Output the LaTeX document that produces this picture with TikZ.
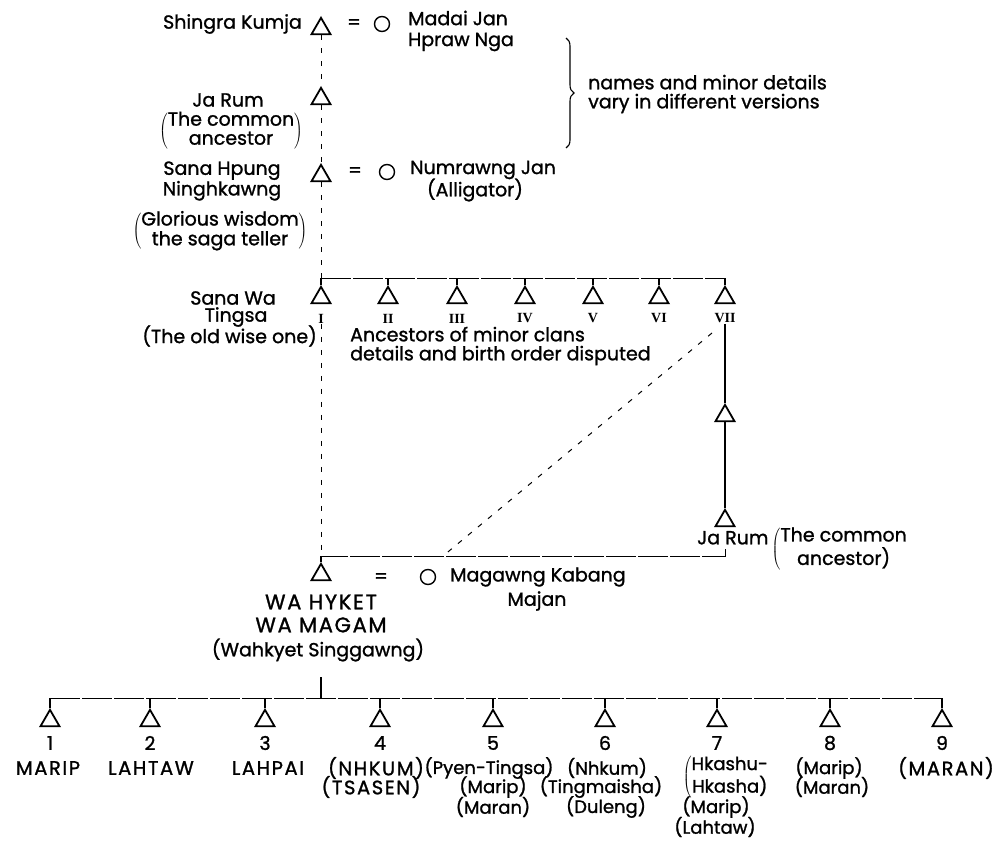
\documentclass[tikz,border=0pt]{standalone}
\usepackage{fontspec}
\setmainfont{Poppins}[FakeBold=1.2]
\newfontfamily\romfont{Liberation Serif}
\newfontfamily\capfont{Poppins}[LetterSpace=8,FakeBold=1.2]
\usetikzlibrary{shapes.geometric,decorations.pathreplacing}
\newcommand\parenblock[1]{$\left(\begin{tabular}{@{}c@{}}#1\end{tabular}\right)$}
\newcommand\lparenblock[1]{$\left(\begin{tabular}{@{}c@{}}#1\end{tabular}\right.$}
\begin{document}
\begin{tikzpicture}[x=1pt,y=-1pt,
  tri/.style={regular polygon, regular polygon sides=3, draw, line width=1.8pt,
    minimum size=22pt, inner sep=0pt, anchor=north},
  fem/.style={circle, draw, line width=1.4pt, minimum size=15pt, inner sep=0pt},
  lbl/.style={font=\fontsize{19}{19}\selectfont, inner sep=0pt},
  blbl/.style={font=\fontsize{18}{19}\selectfont, inner sep=0pt},
  capl/.style={font=\capfont\fontsize{21}{23}\selectfont, inner sep=0pt, align=center},
  bcap/.style={font=\capfont\fontsize{19.5}{20}\selectfont, inner sep=0pt},
  rom/.style={font=\romfont\bfseries\fontsize{14}{14}\selectfont, inner sep=0.5pt},
  dsh/.style={line width=1pt, dash pattern=on 5pt off 8pt},
  sib/.style={line width=1pt, dash pattern=on 30pt off 2pt},
  solidl/.style={line width=1.1pt},
  bracest/.style={decorate, decoration={brace, amplitude=8pt}, line width=1.1pt}]
\useasboundingbox (0,0) rectangle (1008,845);

% --- top generations
\node[tri] (sk) at (321,16) {};
\node[lbl, anchor=east] (skl) at (302,24) {Shingra Kumja};
\node[lbl] (eq1) at (354,24) {=};
\node[fem] (mj) at (382,24) {};
\node[lbl, anchor=west] (mjl) at (408,18) {Madai Jan};
\node[lbl] (mjl2) at (461,42) {Hpraw Nga};

\node[tri] (jr1) at (321,86) {};
\node[lbl] (jr1l) at (228,100) {Ja Rum};
\node[lbl] (jr1d) at (231,131) {\parenblock{The common\\ancestor}};

\coordinate (bt) at (566,38);
\coordinate (bb) at (566,148);
\draw[bracest] (bt) -- (bb);
\node[lbl, anchor=west, align=left] (note) at (588,94) {names and minor details\\vary in different versions};

\node[tri] (sh) at (321,163) {};
\node[lbl, align=center] (shl) at (222,181) {Sana Hpung\\Ninghkawng};
\node[lbl] (shd) at (220,231) {\parenblock{Glorious wisdom\\the saga teller}};
\node[lbl] (eq2) at (355,172) {=};
\node[fem] (nj) at (387,172) {};
\node[lbl, anchor=west] (njl) at (410,170) {Numrawng Jan};
\node[lbl] (njl2) at (475,190) {(Alligator)};

\coordinate (s0) at (321,278);
\draw[dsh] (sk.south) -- (jr1.north);
\draw[dsh] (jr1.south) -- (sh.north);
\draw[dsh] (sh.south) -- (s0);

% --- siblings I-VII
\foreach \x/\n/\r in {321/a1/I, 388/a2/II, 457/a3/III, 525/a4/IV, 593/a5/V, 659/a6/VI, 725/a7/VII}{
  \node[tri] (\n) at (\x,285) {};
  \node[rom] (r\n) at (\x,318.5) {\r};
  \draw[solidl] (\n.north) -- (\n.north |- s0);
}
\draw[sib] (s0) -- (a7.north |- s0);

\node[lbl] (swl) at (233,298) {Sana Wa};
\node[lbl] (swl2) at (236,317) {Tingsa};
\node[lbl, anchor=east] (swd) at (317,336) {(The old wise one)};
\node[lbl, anchor=west, align=left] (anc) at (350,346) {Ancestors of minor clans\\details and birth order disputed};

% --- middle
\coordinate (m0) at (321,556);
\draw[dsh] (ra1.south) -- (m0);
\node[tri] (m1) at (725,403) {};
\node[tri] (jr2) at (725,508) {};
\draw[solidl] (ra7.south) -- (m1.north);
\draw[solidl] (m1.south) -- (jr2.north);
\node[lbl, anchor=west] (jr2l) at (697,549) {\raisebox{9pt}{Ja Rum}\,\lparenblock{The common\\ancestor)}};
\coordinate (jrb) at (725,549);
\draw[sib] (jrb) |- (m0);
\coordinate (dg1) at (712,333);
\coordinate (dg2) at (443,556);
\draw[dsh] (dg1) -- (dg2);

% --- Wa Hkyet
\node[tri] (wa) at (321,562) {};
\draw[solidl] (m0) -- (wa.north);
\node[lbl] (eq3) at (381,578) {=};
\node[fem] (mk) at (428,577) {};
\node[lbl, anchor=west] (mkl) at (450,577) {Magawng Kabang};
\node[lbl] (mkl2) at (537,601) {Majan};
\node[capl] (wal) at (321,613.5) {WA HYKET\\WA MAGAM};
\node[lbl] (wal2) at (318,650) {(Wahkyet Singgawng)};
\coordinate (wv) at (321,677);
\coordinate (b0) at (321,698);
\draw[solidl] (wv) -- (b0);

% --- nine sons
\foreach \x/\n/\num in {50/c1/1, 150/c2/2, 265/c3/3, 380/c4/4, 493/c5/5, 605/c6/6, 717/c7/7, 830/c8/8, 942/c9/9}{
  \node[tri] (\n) at (\x,708) {};
  \node[lbl] (n\n) at (\x,743) {\num};
  \draw[solidl] (\n.north) -- (\n.north |- b0);
}
\draw[sib] (c1.north |- b0) -- (c9.north |- b0);

\node[bcap] (l1) at (48,768) {MARIP};
\node[bcap] (l2) at (151,768) {LAHTAW};
\node[bcap] (l3) at (268,768) {LAHPAI};
\node[bcap] (l4a) at (376,768) {(NHKUM)};
\node[bcap] (l4b) at (371,787) {(TSASEN)};
\node[blbl] (l5a) at (489,768) {(Pyen-Tingsa)};
\node[blbl] (l5b) at (493,787) {(Marip)};
\node[blbl] (l5c) at (493,807) {(Maran)};
\node[blbl] (l6a) at (607,768) {(Nhkum)};
\node[blbl] (l6b) at (601,787) {(Tingmaisha)};
\node[blbl] (l6c) at (606,807) {(Duleng)};
\node[blbl] (l7a) at (726,777.5) {\lparenblock{Hkashu-\\Hkasha)}};
\node[blbl] (l7b) at (716,807) {(Marip)};
\node[blbl] (l7c) at (715,827) {(Lahtaw)};
\node[blbl] (l8a) at (829,768) {(Marip)};
\node[blbl] (l8b) at (832,787) {(Maran)};
\node[bcap] (l9) at (946,768) {(MARAN)};
\end{tikzpicture}
\end{document}
